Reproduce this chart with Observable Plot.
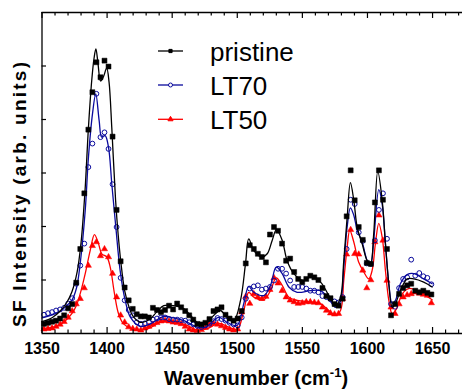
<!DOCTYPE html>
<html><head><meta charset="utf-8">
<script src="https://cdn.jsdelivr.net/npm/d3@7"></script>
<script src="https://cdn.jsdelivr.net/npm/@observablehq/plot@0.6"></script>
<style>
html,body{margin:0;padding:0;background:#fff;}
#chart svg{display:block;}
</style></head><body><div id="chart"></div>
<script>
// ---- data ----
const wavenumber = [1351.5,1354.6,1357.7,1360.8,1363.9,1367.0,1370.1,1373.2,1376.3,1379.4,1382.5,1385.6,1388.7,1391.8,1394.9,1398.0,1401.1,1404.2,1407.3,1410.4,1413.5,1416.6,1419.7,1422.8,1425.9,1429.0,1432.1,1435.2,1438.3,1441.4,1444.5,1447.6,1450.7,1453.8,1456.9,1460.0,1463.1,1466.2,1469.3,1472.4,1475.5,1478.6,1481.7,1484.8,1487.9,1491.0,1494.1,1497.2,1500.3,1503.4,1506.5,1509.6,1512.7,1515.8,1518.9,1522.0,1525.1,1528.2,1531.3,1534.4,1537.5,1540.6,1543.7,1546.8,1549.9,1553.0,1556.1,1559.2,1562.3,1565.4,1568.5,1571.6,1574.7,1577.8,1580.9,1584.0,1587.1,1590.2,1593.3,1596.4,1599.5,1602.6,1605.7,1608.8,1611.9,1615.0,1618.1,1621.2,1624.3,1627.4,1630.5,1633.6,1636.7,1639.8,1642.9,1646.0,1649.1];
const pristine = [0.18,0.20,0.22,0.24,0.28,0.34,0.47,0.55,0.95,1.58,2.62,3.81,4.51,5.07,4.79,5.10,4.99,3.68,2.31,1.35,0.86,0.62,0.46,0.36,0.32,0.32,0.30,0.48,0.44,0.40,0.44,0.52,0.45,0.56,0.49,0.42,0.34,0.26,0.18,0.17,0.20,0.27,0.42,0.45,0.49,0.35,0.28,0.24,0.28,0.42,1.31,1.65,1.58,1.49,1.43,1.33,1.85,1.99,1.92,1.68,1.36,1.40,1.15,1.02,0.96,1.02,1.08,1.05,1.00,0.85,0.70,0.66,0.55,0.52,0.65,2.19,3.05,2.49,1.99,1.75,1.32,1.30,2.45,3.05,2.50,1.58,0.34,0.55,0.74,0.85,0.90,0.93,0.80,0.77,0.80,0.76,0.73];
const lt70 = [0.35,0.38,0.40,0.43,0.45,0.48,0.56,0.66,0.93,1.27,1.68,3.11,3.55,4.48,3.67,3.76,3.45,2.79,1.99,1.04,0.62,0.44,0.34,0.21,0.18,0.19,0.21,0.26,0.28,0.30,0.30,0.27,0.26,0.26,0.25,0.24,0.21,0.17,0.14,0.12,0.15,0.18,0.23,0.29,0.27,0.24,0.20,0.17,0.15,0.30,0.65,0.84,0.88,0.90,0.82,0.84,0.87,0.99,1.21,1.21,1.12,0.99,0.87,0.87,0.87,0.84,0.80,0.80,0.77,0.70,0.68,0.64,0.60,0.58,0.68,1.58,2.50,2.42,1.89,1.73,1.31,1.30,1.74,2.31,2.62,1.77,0.55,0.50,0.85,1.02,1.05,1.38,1.08,1.13,1.07,1.04,0.92];
const lt50 = [0.08,0.09,0.10,0.13,0.17,0.22,0.30,0.42,0.55,0.65,0.85,1.27,1.64,1.71,1.45,1.58,1.43,1.12,0.68,0.34,0.21,0.12,0.09,0.08,0.06,0.10,0.13,0.17,0.20,0.23,0.24,0.23,0.21,0.20,0.18,0.13,0.08,0.06,0.05,0.07,0.11,0.17,0.19,0.17,0.14,0.11,0.08,0.06,0.08,0.40,0.69,0.56,0.74,0.68,0.65,0.69,0.82,1.04,0.94,0.80,0.68,0.62,0.59,0.56,0.57,0.59,0.59,0.58,0.57,0.49,0.43,0.38,0.36,0.37,0.65,1.48,1.94,1.49,1.48,1.18,0.85,1.00,1.71,2.21,1.74,0.99,0.49,0.37,0.55,0.68,0.72,0.74,0.77,0.75,0.73,0.71,0.57];

// fitted curves: knots [wavenumber, value]
const fitPristine = [[1350,0.22],[1358,0.30],[1364,0.42],[1369,0.58],[1373,0.78],[1377,1.15],[1380,1.7],[1383,2.65],[1385.7,3.86],[1388.2,4.73],[1390,5.15],[1391.4,5.32],[1393,5.05],[1395,4.72],[1397.2,4.8],[1399.7,4.96],[1401.5,4.7],[1403.6,3.85],[1406.5,2.5],[1408.5,1.85],[1410.5,1.35],[1413.5,0.8],[1417,0.48],[1420,0.32],[1425.6,0.21],[1433,0.27],[1438,0.4],[1443.5,0.52],[1451,0.52],[1459,0.46],[1464,0.34],[1469,0.21],[1475.6,0.18],[1482,0.34],[1487,0.43],[1492.2,0.30],[1497.3,0.24],[1502.5,0.62],[1506.3,1.30],[1508.8,1.77],[1512.7,1.55],[1519,1.43],[1523,1.49],[1526.8,1.74],[1530.1,1.94],[1534.5,1.74],[1538.3,1.36],[1543.4,1.12],[1551,0.99],[1556.2,1.06],[1563.9,0.96],[1570.3,0.71],[1575.4,0.52],[1579.3,0.68],[1581.8,1.36],[1584.4,2.17],[1586.9,2.82],[1589.5,2.49],[1592.1,1.99],[1595.9,1.68],[1599.8,1.36],[1602.3,1.30],[1604.8,1.86],[1607.9,3.03],[1611.3,2.49],[1613.8,1.68],[1616.4,0.93],[1619,0.49],[1621.5,0.56],[1625.3,0.80],[1630.5,1.02],[1635.6,1.02],[1643.2,0.96],[1649.7,0.87]];
const fitLT70 = [[1350,0.29],[1362.7,0.40],[1368,0.50],[1372.9,0.62],[1376.5,0.85],[1379.3,1.30],[1383.2,2.30],[1385.7,3.30],[1388.8,4.11],[1391.3,4.48],[1393.9,3.98],[1395.9,3.67],[1398.5,3.70],[1401.1,3.48],[1403.6,2.80],[1406.7,1.99],[1410,1.18],[1413.9,0.62],[1418,0.30],[1425.6,0.13],[1433.3,0.18],[1443.5,0.32],[1451.2,0.29],[1459,0.24],[1469.2,0.12],[1475.6,0.12],[1485.8,0.30],[1492.2,0.21],[1499.9,0.15],[1505,0.56],[1508.8,0.88],[1512.7,0.77],[1520.4,0.71],[1525.5,0.90],[1529.9,1.24],[1534.5,1.12],[1539.6,0.87],[1546,0.77],[1556.2,0.80],[1563.9,0.80],[1570.3,0.65],[1575.4,0.49],[1579.3,0.62],[1581.8,1.24],[1584.4,1.99],[1586.9,2.35],[1589.5,2.21],[1592.1,1.93],[1595.9,1.71],[1599.8,1.36],[1602.3,1.27],[1604.8,1.74],[1608.7,2.69],[1611.3,2.42],[1613.8,1.68],[1616.4,0.93],[1619,0.56],[1621.5,0.62],[1625.3,0.93],[1630.5,1.10],[1635.6,1.12],[1643.2,1.02],[1649.7,0.93]];
const fitLT50 = [[1350,0.09],[1362.7,0.15],[1368,0.24],[1372.9,0.37],[1376.5,0.53],[1379.3,0.74],[1383.2,1.12],[1387,1.55],[1390.3,1.85],[1393.4,1.68],[1395.9,1.49],[1399.8,1.43],[1402.4,1.24],[1405.7,0.74],[1408.8,0.37],[1412.6,0.18],[1419,0.09],[1425.6,0.06],[1433.3,0.11],[1443.5,0.24],[1453.8,0.21],[1461.5,0.15],[1469.2,0.06],[1476.9,0.09],[1485.8,0.19],[1493.5,0.12],[1499.9,0.07],[1505,0.43],[1508.8,0.77],[1512.7,0.68],[1520.4,0.63],[1525.5,0.80],[1529.9,1.04],[1534.5,0.90],[1539.6,0.68],[1546,0.62],[1556.2,0.59],[1563.9,0.56],[1570.3,0.43],[1575.4,0.34],[1579.3,0.43],[1581.8,0.99],[1584.4,1.61],[1586.4,1.93],[1589.5,1.71],[1593.3,1.33],[1597.2,1.15],[1601,1.02],[1603.6,1.18],[1606.1,1.68],[1608.7,2.06],[1611.3,1.80],[1613.8,1.18],[1616.4,0.62],[1619,0.37],[1622.3,0.46],[1626.7,0.74],[1631.7,0.84],[1638.2,0.80],[1644.5,0.71],[1649.7,0.63]];

const seriesNames = ["pristine", "LT70", "LT50"];
const xTickLabels = [1350, 1400, 1450, 1500, 1550, 1600, 1650];
const xMinorTicks = [1360,1370,1380,1390,1410,1420,1430,1440,1460,1470,1480,1490,1510,1520,1530,1540,1560,1570,1580,1590,1610,1620,1630,1640,1660,1670];
const yTicks = [1, 2, 3, 4, 5];

// ---- layout ----
const W = 462, H = 389, mL = 41.5, mR = 0, mT = 12, mB = 56;
const xDomain = [1350, 1673], yDomain = [0, 6];
const pxPerY = (H - mT - mB) / (yDomain[1] - yDomain[0]);
const pxPerX = (W - mL - mR) / (xDomain[1] - xDomain[0]);
const FONT = "'Liberation Sans', Arial, sans-serif";

const styles = [
  {name: seriesNames[0], values: pristine, fit: fitPristine, color: "#000000", symbol: "square", r: 2.8, fill: "#000000"},
  {name: seriesNames[1], values: lt70, fit: fitLT70, color: "#0a0a9c", symbol: "circle", r: 2.4, fill: "none"},
  {name: seriesNames[2], values: lt50, fit: fitLT50, color: "#ff0000", symbol: "triangle", r: 2.3, fill: "#ff0000"}
];

const pts = s => wavenumber.map((w, i) => ({x: w, y: s.values[i]}));
const marks = [];
for (const s of [...styles].reverse()) {
  marks.push(Plot.dot(pts(s), {x: "x", y: "y", symbol: s.symbol, r: s.r, fill: s.fill, stroke: s.color, strokeWidth: s.fill === "none" ? 1 : 0.5}));
  marks.push(Plot.line(s.fit, {x: d => d[0], y: d => d[1], stroke: s.color, strokeWidth: 1.3, curve: "catmull-rom"}));
}
const tickY = (px) => px / pxPerY;
const tickX = (px) => px / pxPerX;
// frame (right edge lies outside the picture)
marks.push(Plot.ruleY([yDomain[0], yDomain[1]], {stroke: "#000", strokeWidth: 1.3}));
marks.push(Plot.ruleX([xDomain[0]], {stroke: "#000", strokeWidth: 1.3}));
// inward ticks
marks.push(Plot.ruleX(xTickLabels, {y1: yDomain[0], y2: yDomain[0] + tickY(6), stroke: "#000", strokeWidth: 1.2}));
marks.push(Plot.ruleX(xMinorTicks, {y1: yDomain[0], y2: yDomain[0] + tickY(3.5), stroke: "#000", strokeWidth: 1.2}));
marks.push(Plot.ruleX(xTickLabels, {y1: yDomain[1], y2: yDomain[1] - tickY(6), stroke: "#000", strokeWidth: 1.2}));
marks.push(Plot.ruleX(xMinorTicks, {y1: yDomain[1], y2: yDomain[1] - tickY(3.5), stroke: "#000", strokeWidth: 1.2}));
marks.push(Plot.ruleY(yTicks, {x1: xDomain[0], x2: xDomain[0] + tickX(4.5), stroke: "#000", strokeWidth: 1.2}));
marks.push(Plot.axisX({ticks: xTickLabels, tickSize: 0, tickPadding: 9, tickFormat: d => String(d), fontSize: 16, fontWeight: "bold", label: null}));

const chart = Plot.plot({
  width: W, height: H,
  marginLeft: mL, marginRight: mR, marginTop: mT, marginBottom: mB,
  x: {domain: xDomain},
  y: {domain: yDomain, axis: null},
  style: {fontFamily: FONT, background: "white", color: "#000", overflow: "visible"},
  marks
});
document.getElementById("chart").appendChild(chart);

// axis titles and legend
const svg = d3.select(chart);
svg.append("text")
  .attr("transform", "translate(26,194.5) rotate(-90)")
  .attr("text-anchor", "middle")
  .attr("font-family", FONT).attr("font-weight", "bold").attr("font-size", 19)
  .attr("textLength", 265).attr("lengthAdjust", "spacing")
  .attr("fill", "#000")
  .text("SF Intensity (arb. units)");
const xl = svg.append("text")
  .attr("x", 256).attr("y", 385)
  .attr("text-anchor", "middle")
  .attr("font-family", FONT).attr("font-weight", "bold").attr("font-size", 20)
  .attr("fill", "#000");
xl.append("tspan").text("Wavenumber (cm");
xl.append("tspan").attr("font-size", 13).attr("dy", -8).text("-1");
xl.append("tspan").attr("dy", 8).text(")");

const legendRows = [51, 85, 119.3];
const symMap = {square: d3.symbolSquare, circle: d3.symbolCircle, triangle: d3.symbolTriangle};
const legendR = [1.8, 2.0, 1.9];
styles.forEach((s, i) => {
  const y = legendRows[i];
  svg.append("line").attr("x1", 158).attr("x2", 183).attr("y1", y).attr("y2", y)
    .attr("stroke", s.color).attr("stroke-width", 1.3);
  svg.append("path").attr("d", d3.symbol(symMap[s.symbol], Math.PI * legendR[i] * legendR[i])())
    .attr("transform", `translate(170.5,${y})`)
    .attr("fill", s.fill === "none" ? "white" : s.fill).attr("stroke", s.color).attr("stroke-width", 1);
  svg.append("text").attr("x", 210).attr("y", y + 9.8)
    .attr("text-anchor", "start")
    .attr("font-family", FONT).attr("font-size", 26).attr("fill", "#000")
    .text(s.name);
});
</script></body></html>
